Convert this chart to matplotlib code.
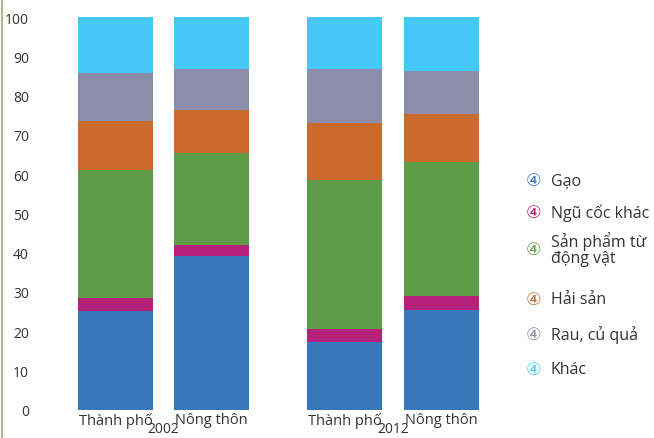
import matplotlib
matplotlib.use('Agg')
import matplotlib.pyplot as plt
from matplotlib.lines import Line2D

plt.rcParams['font.family'] = ['Open Sans', 'DejaVu Sans', 'Noto Sans CJK SC']

# nhóm và thanh
years = ['2002', '2012']
bar_labels = ['Thành phố', 'Nông thôn', 'Thành phố', 'Nông thôn']
bar_pos = [0, 1, 2.385, 3.395]

categories = ['Gạo', 'Ngũ cốc khác', 'Sản phẩm từ\nđộng vật', 'Hải sản', 'Rau, củ quả', 'Khác']
colors = ['#3778bb', '#b52078', '#5e9d47', '#cb6a2d', '#8a8eaa', '#45c8f5']

# tỷ trọng (%) theo thứ tự thanh
gao = [25.2, 39.1, 17.2, 25.4]
ngu_coc = [3.2, 2.8, 3.3, 3.6]
dong_vat = [32.6, 23.5, 38.0, 34.1]
hai_san = [12.5, 10.9, 14.6, 12.2]
rau_cu = [12.3, 10.5, 13.7, 11.0]
khac = [14.2, 13.2, 13.2, 13.7]
series = [gao, ngu_coc, dong_vat, hai_san, rau_cu, khac]

W, H = 654, 439
fig = plt.figure(figsize=(W / 100, H / 100), dpi=100)
ax = fig.add_axes([40 / W, 28.3 / H, 460 / W, 392.7 / H])

bottom = [0, 0, 0, 0]
for vals, c in zip(series, colors):
    ax.bar(bar_pos, vals, width=0.78, bottom=bottom, color=c, linewidth=0)
    bottom = [b + v for b, v in zip(bottom, vals)]

ax.set_xlim(-0.786, 4.005)
ax.set_ylim(0, 100)
ax.set_yticks(range(0, 101, 10))
ax.set_xticks(bar_pos)
ax.set_xticklabels(bar_labels)
ax.tick_params(axis='y', length=0, pad=8, labelsize=10, labelcolor='#333333')
ax.tick_params(axis='x', length=0, pad=2, labelsize=10.5, labelcolor='#333333')
for s in ax.spines.values():
    s.set_visible(False)

# nhãn năm
for i, y in enumerate(years):
    xc = (bar_pos[2 * i] + bar_pos[2 * i + 1]) / 2
    ax.text(xc, -3.0, y, ha='center', va='top', fontsize=10, color='#333333',
            transform=ax.transData, clip_on=False)

# đường dọc bên trái
fig.add_artist(Line2D([1.5 / W, 1.5 / W], [0, 1], transform=fig.transFigure,
                      color='#b5b98a', linewidth=1.5))

# chú giải
legend_y = [181, 213, 250, 300, 335, 370]
for name, c, yy in zip(categories, colors, legend_y):
    fig.text(526 / W, 1 - yy / H, '④', color=c, fontsize=12.5, va='center', ha='left',
             family=['DejaVu Sans', 'Noto Sans CJK SC'])
    fig.text(551 / W, 1 - yy / H, name, color='#333333', fontsize=11.5, va='center', ha='left',
             linespacing=1.0)

fig.savefig('out.png', dpi=100)
